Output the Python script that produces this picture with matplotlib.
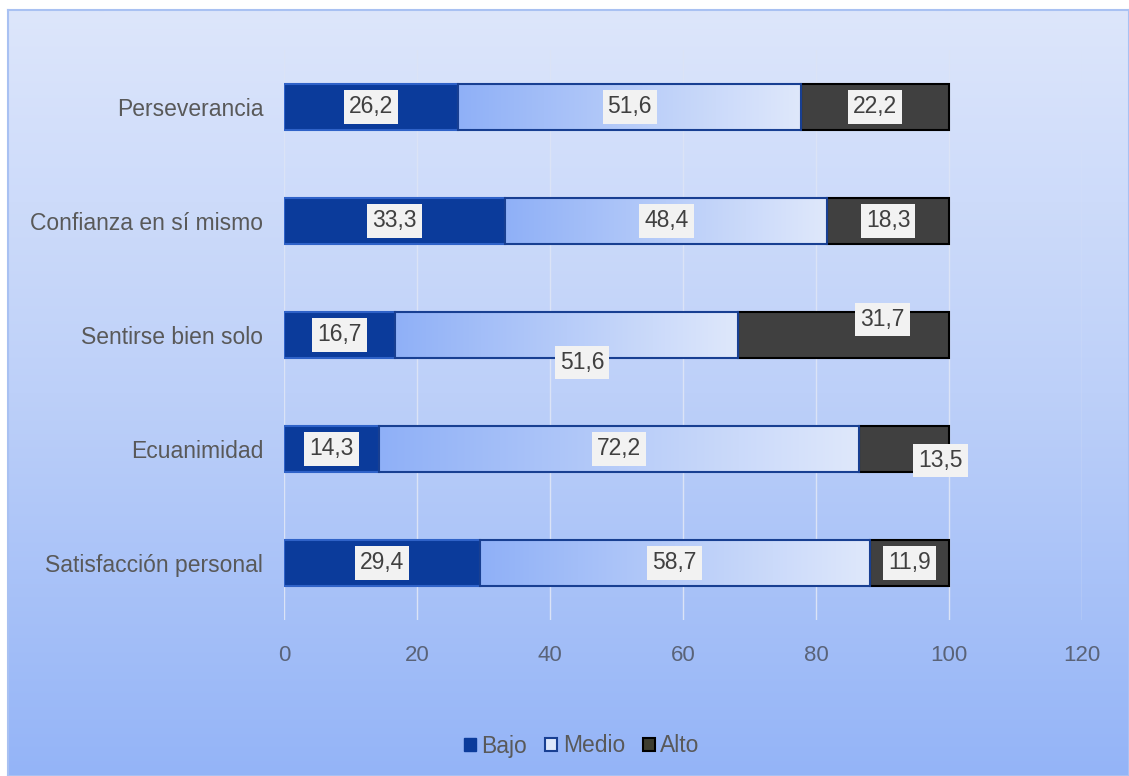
import numpy as np
import matplotlib.pyplot as plt
from matplotlib.colors import LinearSegmentedColormap
from matplotlib.patches import Patch

plt.rcParams['font.family'] = ['Liberation Sans', 'DejaVu Sans']

categories = ["Perseverancia", "Confianza en sí mismo", "Sentirse bien solo",
              "Ecuanimidad", "Satisfacción personal"]
bajo = [26.2, 33.3, 16.7, 14.3, 29.4]
medio = [51.6, 48.4, 51.6, 72.2, 58.7]
alto = [22.2, 18.3, 31.7, 13.5, 11.9]
series_names = ["Bajo", "Medio", "Alto"]
xticks = [0, 20, 40, 60, 80, 100, 120]

W, H = 1129, 776
fig = plt.figure(figsize=(W / 100, H / 100), dpi=100, facecolor='white')

# gradient backdrop with a thin frame
bg = fig.add_axes([8 / W, 0, 1 - 8 / W, (H - 10) / H])
bg_cmap = LinearSegmentedColormap.from_list('bg', ['#94b4f7', '#bdd0f9', '#dde6fb'])
bg.imshow(np.linspace(0, 1, 256).reshape(-1, 1), cmap=bg_cmap, origin='lower',
          aspect='auto', extent=[0, 1, 0, 1])
bg.set_xticks([])
bg.set_yticks([])
for s in bg.spines.values():
    s.set_color('#a9c1f2')
    s.set_linewidth(1.5)

ax = fig.add_axes([284 / W, 1 - 620 / H, (1082 - 284) / W, 570 / H])
ax.set_facecolor('none')

y = np.arange(len(categories))
height = 0.4
left_medio = np.array(bajo)
left_alto = left_medio + np.array(medio)

b1 = ax.barh(y, bajo, height=height, color='#0b3b9b', edgecolor='#2f62c8', linewidth=1.5, zorder=3)
b2 = ax.barh(y, medio, left=left_medio, height=height, color='none',
             edgecolor='#183f92', linewidth=1.5, zorder=4)
b3 = ax.barh(y, alto, left=left_alto, height=height, color='#404040',
             edgecolor='black', linewidth=1.5, zorder=3)

# horizontal gradient inside each "Medio" bar
med_cmap = LinearSegmentedColormap.from_list('med', ['#8fb0f7', '#dfe8fb'])
grad = np.linspace(0, 1, 256).reshape(1, -1)
for p in b2.patches:
    x0, y0 = p.get_x(), p.get_y()
    im = ax.imshow(grad, cmap=med_cmap, aspect='auto', zorder=3,
                   extent=[x0, x0 + p.get_width(), y0, y0 + p.get_height()])
    im.set_clip_path(p)

ax.set_xlim(0, 120)
ax.set_ylim(len(categories) - 0.5, -0.5)
ax.set_xticks(xticks)
ax.set_yticks(y)
ax.set_yticklabels(categories)
ax.tick_params(axis='y', length=0, pad=15, labelsize=16.5, labelcolor='#595959')
ax.tick_params(axis='x', length=0, pad=18, labelsize=16, labelcolor='#5a6378')
ax.grid(axis='x', color='#dbe3f6', linewidth=1, zorder=0)
ax.set_axisbelow(True)
for s in ax.spines.values():
    s.set_visible(False)

# data labels, a few nudged off the bar centre (offsets in points)
nudge = {(1, 2): (11, -20), (2, 2): (28, 11), (2, 3): (26, -8)}
box = dict(boxstyle='square,pad=0.22', facecolor='#f2f2f2', edgecolor='none')
for si, (vals, lefts) in enumerate([(bajo, np.zeros(len(bajo))),
                                     (medio, left_medio), (alto, left_alto)]):
    for i, (v, l) in enumerate(zip(vals, lefts)):
        dx, dy = nudge.get((si, i), (0, 0))
        ax.annotate(f"{v:.1f}".replace('.', ','), xy=(l + v / 2, i),
                    xytext=(dx, dy), textcoords='offset points',
                    ha='center', va='center', fontsize=16.5, color='#404040',
                    bbox=box, zorder=6)

handles = [Patch(facecolor='#0b3b9b', edgecolor='#0b3b9b'),
           Patch(facecolor='#dde7fb', edgecolor='#183f92', linewidth=1.5),
           Patch(facecolor='#3d3d30', edgecolor='black', linewidth=1.5)]
fig.legend(handles, series_names, loc='center', bbox_to_anchor=(582 / W, 1 - 746 / H),
           ncol=3, frameon=False, handlelength=0.5, handleheight=0.5,
           handletextpad=0.25, columnspacing=0.8, fontsize=16.5, labelcolor='#595959')

fig.savefig('out.png', dpi=100, facecolor=fig.get_facecolor())
